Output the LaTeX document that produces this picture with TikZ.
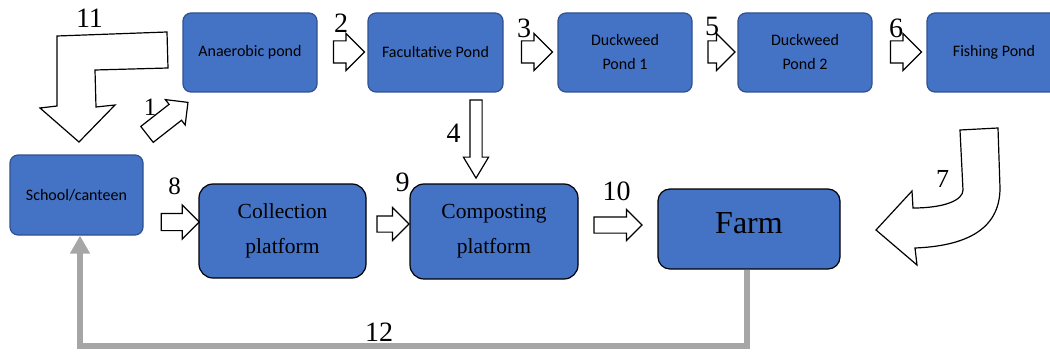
\documentclass[tikz,border=0pt]{standalone}
\usepackage{fontspec}
\setmainfont{Liberation Serif}
\newfontfamily\calibri{Carlito}
\usepackage{tikz}
\usetikzlibrary{arrows.meta}
\usetikzlibrary{shapes.arrows}
\usetikzlibrary{positioning}
\definecolor{boxblue}{HTML}{4472C4}
\definecolor{boxedge}{HTML}{2F528F}
\definecolor{loopgrey}{HTML}{A6A6A6}

\begin{document}
\begin{tikzpicture}[
x=1pt, y=-1pt,
pond/.style={rectangle, draw=boxedge, line width=1.2pt, fill=boxblue, rounded corners=8pt,
minimum width=134pt, minimum height=79pt, inner sep=0pt, align=center,
font=\calibri\fontsize{16}{24}\selectfont},
platform/.style={rectangle, draw=black, line width=1.2pt, fill=boxblue, rounded corners=14pt,
minimum width=167pt, minimum height=94pt, inner sep=0pt, align=center,
font=\fontsize{21.5}{35}\selectfont},
flow/.style={single arrow, draw=black, line width=1.2pt, fill=white, inner xsep=0pt, inner ysep=10.5pt,
single arrow head extend=7.5pt, minimum width=36pt, minimum height=31pt},
bigflow/.style={draw=black, line width=1.2pt, fill=white, line join=miter},
num/.style={inner sep=0pt, font=\fontsize{28}{28}\selectfont},
loop/.style={draw=loopgrey, line width=5.5pt, -{Triangle[width=19pt,length=18pt]}}
]
\useasboundingbox (0,0) rectangle (1050,353);

\node[num] (n11) at (89.5,18) {11};
\node[num, font=\fontsize{25}{25}\selectfont] (n1) at (150,107) {1};
\node[num] (n2) at (341,23) {2};
\node[num] (n3) at (524,28) {3};
\node[num] (n5) at (712,26) {5};
\node[num] (n6) at (896,28) {6};
\node[num] (n4) at (453.5,133) {4};
\node[num, font=\fontsize{26}{26}\selectfont] (n7) at (942.5,179) {7};
\node[num, font=\fontsize{25}{25}\selectfont] (n8) at (174.5,186.5) {8};
\node[num] (n9) at (402.5,182) {9};
\node[num] (n10) at (616.5,191) {10};
\node[num] (n12) at (379,332) {12};

\node[pond] (anaerobic) at (250,52.5) {Anaerobic pond};
\node[pond, minimum width=135pt] (facultative) at (435.5,52.5) {Facultative Pond};
\node[pond] (duck1) at (625,52.5) {Duckweed\\Pond 1};
\node[pond] (duck2) at (805,52.5) {Duckweed\\Pond 2};
\node[pond] (fishing) at (994,52.5) {Fishing Pond};
\node[pond, minimum width=133pt, minimum height=80pt] (school) at (76.5,195) {School/canteen};
\node[platform] (collection) at (282.5,231) {Collection\\platform};
\node[platform, minimum width=168pt, minimum height=95pt] (composting) at (494,231.5) {Composting\\platform};
\node[platform, minimum width=182pt, minimum height=80pt, rounded corners=12pt, text depth=12pt,
font=\fontsize{32}{32}\selectfont] (farm) at (749,229) {Farm};

\node[flow, inner ysep=9.5pt, minimum width=31pt, minimum height=52pt, single arrow head extend=6pt,
rotate=38] (a1) at (163.5,121.5) {};
\node[flow] (a2) at (343.5,52) {};
\node[flow] (a3) at (531.5,52) {};
\node[flow, minimum height=27pt] (a5) at (716,52) {};
\node[flow] (a6) at (900.5,52) {};
\node[flow, inner xsep=5.5pt, inner ysep=0pt, minimum width=24pt, minimum height=78pt,
single arrow head extend=6.5pt, single arrow tip angle=62, shape border rotate=270] (a4) at (476,134) {};
\node[flow, inner ysep=8pt, minimum width=33pt, minimum height=38pt, single arrow head extend=8.5pt] (a8) at (176,222) {};
\node[flow, inner ysep=7.5pt, minimum width=32pt, minimum height=32pt, single arrow head extend=8.5pt] (a9) at (389,224) {};
\node[flow, inner ysep=7.5pt, minimum width=30pt, minimum height=48pt, single arrow head extend=7.5pt] (a10) at (614,225) {};

\draw[bigflow] (57,36) -- (167,32) -- (168,68) -- (95,70) -- (96,107) -- (115,105)
-- (79,142) -- (40,108) -- (57,106) -- cycle;
\draw[bigflow] (960,130) -- (998,128) -- (1000,188) .. controls (1000,230) and (965,246) .. (915,248)
-- (917,265) -- (876,230) -- (912,191) -- (913,208) .. controls (945,208) and (963,200) .. (963,190)
-- cycle;

\draw[loop] ([xshift=-2pt]farm.south) -- ++(0,76.5) -| ([xshift=3.5pt]school.south);
\end{tikzpicture}
\end{document}
